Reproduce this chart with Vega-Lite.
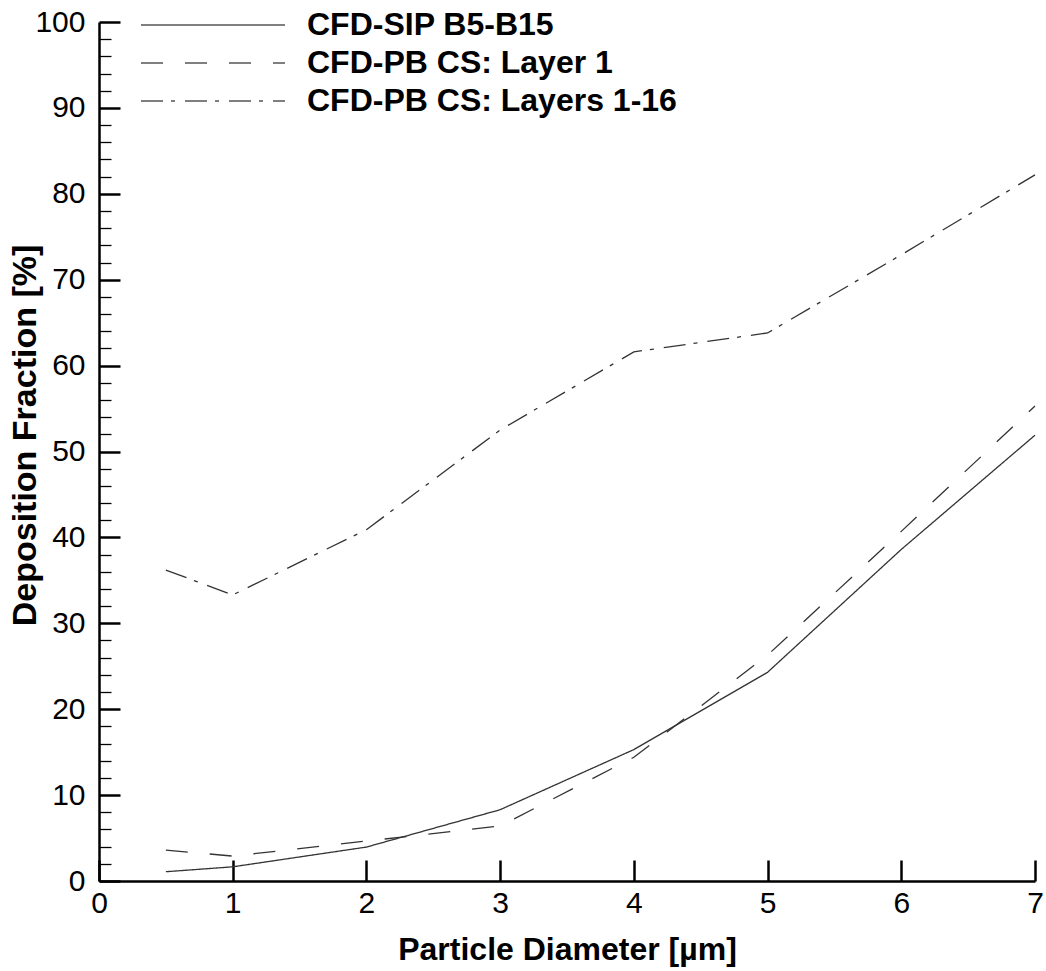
{
  "$schema": "https://vega.github.io/schema/vega-lite/v6.json",
  "width": 936,
  "height": 859,
  "autosize": {"type": "none"},
  "padding": {"left": 99, "top": 22, "right": 11, "bottom": 90},
  "background": "white",
  "config": {"view": {"stroke": null}, "font": "Liberation Sans"},
  "data": {
    "values": [
      {"series": "CFD-SIP B5-B15", "d": 0.5, "f": 1.08},
      {"series": "CFD-SIP B5-B15", "d": 1, "f": 1.65},
      {"series": "CFD-SIP B5-B15", "d": 2, "f": 3.95},
      {"series": "CFD-SIP B5-B15", "d": 3, "f": 8.3},
      {"series": "CFD-SIP B5-B15", "d": 4, "f": 15.3},
      {"series": "CFD-SIP B5-B15", "d": 5, "f": 24.3},
      {"series": "CFD-SIP B5-B15", "d": 6, "f": 38.6},
      {"series": "CFD-SIP B5-B15", "d": 7, "f": 51.9},
      {"series": "CFD-PB CS: Layer 1", "d": 0.5, "f": 3.6},
      {"series": "CFD-PB CS: Layer 1", "d": 1, "f": 2.9},
      {"series": "CFD-PB CS: Layer 1", "d": 2, "f": 4.65},
      {"series": "CFD-PB CS: Layer 1", "d": 3, "f": 6.4},
      {"series": "CFD-PB CS: Layer 1", "d": 4, "f": 14.4},
      {"series": "CFD-PB CS: Layer 1", "d": 5, "f": 26.3},
      {"series": "CFD-PB CS: Layer 1", "d": 6, "f": 40.7},
      {"series": "CFD-PB CS: Layer 1", "d": 7, "f": 55.3},
      {"series": "CFD-PB CS: Layers 1-16", "d": 0.5, "f": 36.2},
      {"series": "CFD-PB CS: Layers 1-16", "d": 1, "f": 33.3},
      {"series": "CFD-PB CS: Layers 1-16", "d": 2, "f": 40.9},
      {"series": "CFD-PB CS: Layers 1-16", "d": 3, "f": 52.5},
      {"series": "CFD-PB CS: Layers 1-16", "d": 4, "f": 61.6},
      {"series": "CFD-PB CS: Layers 1-16", "d": 5, "f": 63.8},
      {"series": "CFD-PB CS: Layers 1-16", "d": 6, "f": 72.9},
      {"series": "CFD-PB CS: Layers 1-16", "d": 7, "f": 82.2}
    ]
  },
  "mark": {"type": "line", "color": "#333333", "strokeWidth": 1.3, "clip": false},
  "encoding": {
    "x": {
      "field": "d",
      "type": "quantitative",
      "scale": {"domain": [0, 7], "nice": false, "zero": false},
      "axis": {
        "title": "Particle Diameter [µm]",
        "values": [0, 0.5, 1, 1.5, 2, 2.5, 3, 3.5, 4, 4.5, 5, 5.5, 6, 6.5, 7],
        "format": "d",
        "labelExpr": "datum.value % 1 === 0 ? datum.label : ''",
        "tickSize": {"condition": {"test": "datum.value % 1 === 0", "value": -21}, "value": -12},
        "tickWidth": {"condition": {"test": "datum.value % 1 === 0", "value": 2.5}, "value": 1.3},
        "tickColor": "black",
        "domainColor": "black",
        "domainWidth": 2.5,
        "grid": false,
        "labelFontSize": 30,
        "labelColor": "black",
        "labelPadding": 28,
        "labelFlush": false,
        "labelOverlap": false,
        "labelBound": false,
        "titleFontSize": 32,
        "titleFontWeight": "bold",
        "titleColor": "black",
        "titlePadding": 16
      }
    },
    "y": {
      "field": "f",
      "type": "quantitative",
      "scale": {"domain": [0, 100], "nice": false},
      "axis": {
        "title": "Deposition Fraction [%]",
        "values": [0,2,4,6,8,10,12,14,16,18,20,22,24,26,28,30,32,34,36,38,40,42,44,46,48,50,52,54,56,58,60,62,64,66,68,70,72,74,76,78,80,82,84,86,88,90,92,94,96,98,100],
        "format": "d",
        "labelExpr": "datum.value % 10 === 0 ? datum.label : ''",
        "tickSize": {"condition": {"test": "datum.value % 10 === 0", "value": -21}, "value": -12},
        "tickWidth": {"condition": {"test": "datum.value % 10 === 0", "value": 2.5}, "value": 1.3},
        "tickColor": "black",
        "domainColor": "black",
        "domainWidth": 2.5,
        "grid": false,
        "labelFontSize": 30,
        "labelColor": "black",
        "labelPadding": 35,
        "labelFlush": false,
        "labelOverlap": false,
        "labelBound": false,
        "titleFontSize": 34,
        "titleFontWeight": "bold",
        "titleColor": "black",
        "titleX": -57,
        "titleY": 413
      }
    },
    "strokeDash": {
      "field": "series",
      "type": "nominal",
      "scale": {
        "domain": ["CFD-SIP B5-B15", "CFD-PB CS: Layer 1", "CFD-PB CS: Layers 1-16"],
        "range": [[1, 0], [22, 22], [22, 8, 4, 10]]
      },
      "legend": {
        "orient": "none",
        "legendX": 26,
        "legendY": -13,
        "title": null,
        "padding": 0,
        "symbolType": "M0,0H24",
        "symbolSize": 144,
        "symbolStrokeColor": "#555555",
        "symbolStrokeWidth": 1.3,
        "labelFontSize": 32,
        "labelFontWeight": "bold",
        "labelColor": "black",
        "labelOffset": 150,
        "labelLimit": 700,
        "rowPadding": 6
      }
    }
  }
}
